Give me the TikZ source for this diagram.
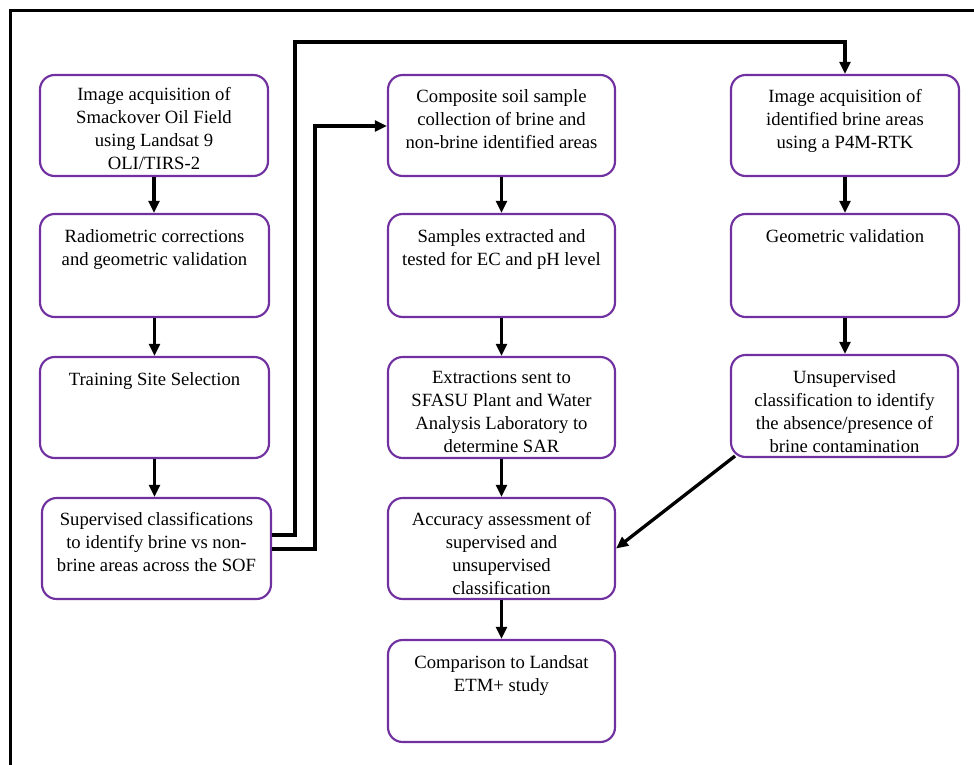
\documentclass[tikz,border=0pt]{standalone}
\usepackage{fontspec}
\setmainfont{Liberation Serif}
\usetikzlibrary{arrows.meta,fit,calc}
\definecolor{boxpurple}{HTML}{7030A0}
\begin{document}
\begin{tikzpicture}[x=0.75pt,y=-0.75pt,
  box/.style={draw=boxpurple, line width=1.6pt, rounded corners=11pt, inner sep=0pt, fill=white},
  txt/.style={anchor=north, align=center, inner sep=0pt, font=\fontsize{14pt}{17.25pt}\selectfont},
  arr/.style={line width=2.5pt, -{Triangle[length=9pt,width=8pt]}},
  border/.style={line width=2.5pt}]
\useasboundingbox (0,0) rectangle (974,764);
\draw[border] (10.5,770) -- (10.5,10.5) -- (980,10.5);

% column 1
\node[box, fit={(40,75) (268,176)}] (a1) {};
\node[box, fit={(40,214) (269,317)}] (a2) {};
\node[box, fit={(40,357) (269,458)}] (a3) {};
\node[box, fit={(42,498) (271,599)}] (a4) {};
% column 2
\node[box, fit={(388,75) (615,176)}] (b1) {};
\node[box, fit={(388,214) (615,317)}] (b2) {};
\node[box, fit={(388,357) (615,458)}] (b3) {};
\node[box, fit={(388,498) (615,599)}] (b4) {};
\node[box, fit={(388,640) (615,742)}] (b5) {};
% column 3
\node[box, fit={(731,75) (959,176)}] (c1) {};
\node[box, fit={(731,214) (959,317)}] (c2) {};
\node[box, fit={(731,355) (958,457)}] (c3) {};

% texts
\node[txt] (ta1) at ($(a1.north)+(0,13)$) {Image acquisition of\\Smackover Oil Field\\using Landsat 9\\OLI/TIRS-2};
\node[txt] (ta2) at ($(a2.north)+(0,16)$) {Radiometric corrections\\and geometric validation};
\node[txt] (ta3) at ($(a3.north)+(0,16)$) {Training Site Selection};
\node[txt] (ta4) at ($(a4.north)+(0,15)$) {Supervised classifications\\to identify brine vs non-\\brine areas across the SOF};
\node[txt] (tb1) at ($(b1.north)+(0,15)$) {Composite soil sample\\collection of brine and\\non-brine identified areas};
\node[txt] (tb2) at ($(b2.north)+(0,16)$) {Samples extracted and\\tested for EC and pH level};
\node[txt] (tb3) at ($(b3.north)+(0,15)$) {Extractions sent to\\SFASU Plant and Water\\Analysis Laboratory to\\determine SAR};
\node[txt] (tb4) at ($(b4.north)+(0,15)$) {Accuracy assessment of\\supervised and\\unsupervised\\classification};
\node[txt] (tb5) at ($(b5.north)+(0,16)$) {Comparison to Landsat\\ETM+ study};
\node[txt] (tc1) at ($(c1.north)+(0,15)$) {Image acquisition of\\identified brine areas\\using a P4M-RTK};
\node[txt] (tc2) at ($(c2.north)+(0,16)$) {Geometric validation};
\node[txt] (tc3) at ($(c3.north)+(0,16)$) {Unsupervised\\classification to identify\\the absence/presence of\\brine contamination};

% vertical arrows
\draw[arr] (a1.south) -- (a1.south |- a2.north);
\draw[arr] (a2.south) -- (a2.south |- a3.north);
\draw[arr] (a3.south) -- (a3.south |- a4.north);
\draw[arr] (b1.south) -- (b2.north);
\draw[arr] (b2.south) -- (b3.north);
\draw[arr] (b3.south) -- (b4.north);
\draw[arr] (b4.south) -- (b5.north);
\draw[arr] (c1.south) -- (c1.south |- c2.north);
\draw[arr] (c2.south) -- (c2.south |- c3.north);

% routed connectors
\coordinate (p1) at (295,535);
\coordinate (p2) at (295,42);
\coordinate (q1) at (315,549);
\coordinate (q2) at (315,126);
\draw[arr] (a4.east |- p1) -- (p1) -- (p2) -- (c1.north |- p2) -- (c1.north);
\draw[arr] (a4.east |- q1) -- (q1) -- (q2) -- (b1.west |- q2);

% diagonal
\coordinate (d1) at (735,456);
\draw[arr] (d1) -- (b4.east);
\end{tikzpicture}
\end{document}
